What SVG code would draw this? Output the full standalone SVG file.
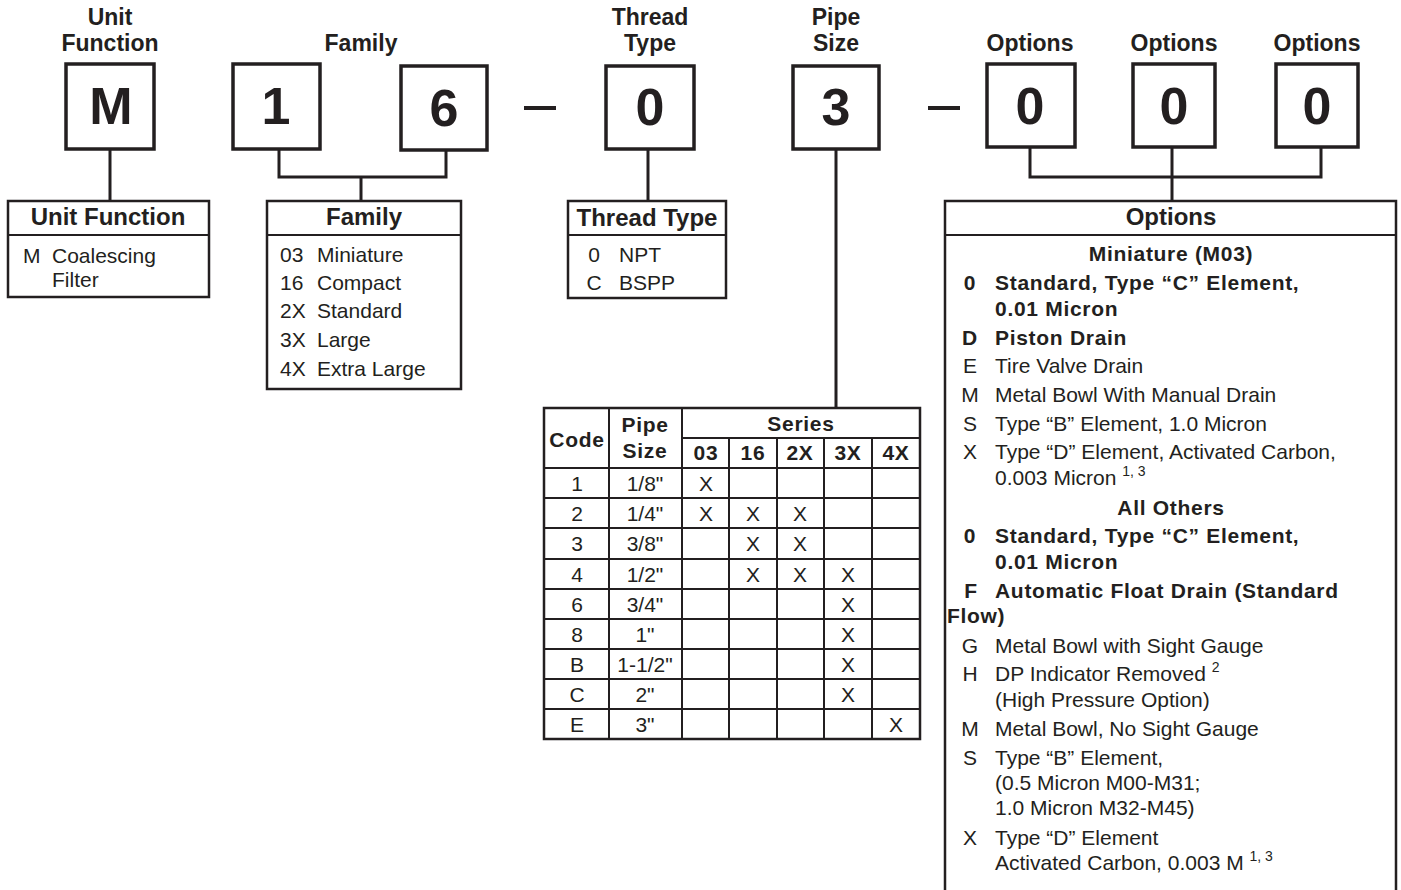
<svg xmlns="http://www.w3.org/2000/svg" width="1401" height="890" viewBox="0 0 1401 890">
<style>
text{font-family:"Liberation Sans",Arial,sans-serif;fill:#231f20}
.lbl{font-size:23px;font-weight:bold;text-anchor:middle}
.big{font-size:52px;font-weight:bold;text-anchor:middle}
.hd{font-size:24px;font-weight:bold;text-anchor:middle}
.t{font-size:21px}
.c{font-size:21px;text-anchor:middle}
.b{font-size:21px;font-weight:bold;letter-spacing:0.7px}
.bc{font-size:21px;font-weight:bold;letter-spacing:0.7px;text-anchor:middle}
.sup{font-size:14px}
.cb{fill:#fff;stroke:#231f20;stroke-width:3.5}
.ib{fill:#fff;stroke:#231f20;stroke-width:2.5}
.ln{stroke:#231f20;stroke-width:3;fill:none}
.tl{stroke:#231f20;stroke-width:2;fill:none}
.gray{fill:#e6e7e8}
</style>
<g id="connectors">
<line class="ln" x1="110" y1="149" x2="110" y2="201"/>
<polyline class="ln" points="279,149 279,177 446,177 446,150"/>
<line class="ln" x1="361" y1="177" x2="361" y2="201"/>
<line class="ln" x1="648" y1="149" x2="648" y2="201"/>
<line class="ln" x1="836" y1="149" x2="836" y2="409"/>
<polyline class="ln" points="1030,147 1030,177 1321,177 1321,147"/>
<line class="ln" x1="1172" y1="147" x2="1172" y2="201"/>
<line x1="524" y1="108" x2="556" y2="108" stroke="#231f20" stroke-width="4"/>
<line x1="928" y1="108" x2="960" y2="108" stroke="#231f20" stroke-width="4"/>
</g>
<g id="code-M">
<text class="lbl" x="110" y="25">Unit</text>
<text class="lbl" x="110" y="51">Function</text>
<rect class="cb" x="66" y="64" width="88" height="85"/>
<text class="big" x="111" y="124">M</text>
</g>
<g id="code-1">
<text class="lbl" x="361" y="51">Family</text>
<rect class="cb" x="233" y="64" width="87" height="85"/>
<text class="big" x="276" y="124">1</text>
</g>
<g id="code-6">
<rect class="cb" x="401" y="66" width="86" height="84"/>
<text class="big" x="444" y="126">6</text>
</g>
<g id="code-0-thread">
<text class="lbl" x="650" y="25">Thread</text>
<text class="lbl" x="650" y="51">Type</text>
<rect class="cb" x="606" y="66" width="88" height="83"/>
<text class="big" x="650" y="125">0</text>
</g>
<g id="code-3">
<text class="lbl" x="836" y="25">Pipe</text>
<text class="lbl" x="836" y="51">Size</text>
<rect class="cb" x="793" y="66" width="86" height="83"/>
<text class="big" x="836" y="125">3</text>
</g>
<g id="code-opt1">
<text class="lbl" x="1030" y="51">Options</text>
<rect class="cb" x="987" y="64" width="88" height="83"/>
<text class="big" x="1030" y="124">0</text>
</g>
<g id="code-opt2">
<text class="lbl" x="1174" y="51">Options</text>
<rect class="cb" x="1133" y="64" width="82" height="83"/>
<text class="big" x="1174" y="124">0</text>
</g>
<g id="code-opt3">
<text class="lbl" x="1317" y="51">Options</text>
<rect class="cb" x="1276" y="64" width="82" height="83"/>
<text class="big" x="1317" y="124">0</text>
</g>
<g id="unit-function">
<rect class="ib" x="8" y="201" width="201" height="96"/>
<line class="tl" x1="8" y1="235" x2="209" y2="235"/>
<text class="hd" x="108" y="225">Unit Function</text>
<text class="t" x="23" y="263">M</text>
<text class="t" x="52" y="263">Coalescing<tspan x="52" dy="24">Filter</tspan></text>
</g>
<g id="family">
<rect class="ib" x="267" y="201" width="194" height="188"/>
<line class="tl" x1="267" y1="235" x2="461" y2="235"/>
<text class="hd" x="364" y="225">Family</text>
<text class="t" x="280" y="262">03</text><text class="t" x="317" y="262">Miniature</text>
<text class="t" x="280" y="290">16</text><text class="t" x="317" y="290">Compact</text>
<text class="t" x="280" y="318">2X</text><text class="t" x="317" y="318">Standard</text>
<text class="t" x="280" y="347">3X</text><text class="t" x="317" y="347">Large</text>
<text class="t" x="280" y="376">4X</text><text class="t" x="317" y="376">Extra Large</text>
</g>
<g id="thread-type">
<rect class="ib" x="568" y="201" width="158" height="97"/>
<line class="tl" x1="568" y1="235" x2="726" y2="235"/>
<text class="hd" x="647" y="226">Thread Type</text>
<text class="c" x="594" y="262">0</text><text class="t" x="619" y="262">NPT</text>
<text class="c" x="594" y="290">C</text><text class="t" x="619" y="290">BSPP</text>
</g>
<g id="pipe-size-table">
<rect class="ib" x="544" y="408" width="376" height="331"/>
<line class="tl" x1="682" y1="438" x2="920" y2="438"/>
<line class="tl" x1="544" y1="468" x2="920" y2="468"/>
<line class="tl" x1="544" y1="498" x2="920" y2="498"/>
<line class="tl" x1="544" y1="528" x2="920" y2="528"/>
<line class="tl" x1="544" y1="559" x2="920" y2="559"/>
<line class="tl" x1="544" y1="589" x2="920" y2="589"/>
<line class="tl" x1="544" y1="619" x2="920" y2="619"/>
<line class="tl" x1="544" y1="649" x2="920" y2="649"/>
<line class="tl" x1="544" y1="679" x2="920" y2="679"/>
<line class="tl" x1="544" y1="709" x2="920" y2="709"/>
<line class="tl" x1="609" y1="408" x2="609" y2="739"/>
<line class="tl" x1="682" y1="408" x2="682" y2="739"/>
<line class="tl" x1="729" y1="438" x2="729" y2="739"/>
<line class="tl" x1="777" y1="438" x2="777" y2="739"/>
<line class="tl" x1="824" y1="438" x2="824" y2="739"/>
<line class="tl" x1="872" y1="438" x2="872" y2="739"/>
<text class="bc" x="577" y="447">Code</text>
<text class="bc" x="645" y="432">Pipe<tspan x="645" dy="26">Size</tspan></text>
<text class="bc" x="801" y="431">Series</text>
<text class="bc" x="706" y="460">03</text>
<text class="bc" x="753" y="460">16</text>
<text class="bc" x="800" y="460">2X</text>
<text class="bc" x="848" y="460">3X</text>
<text class="bc" x="896" y="460">4X</text>
<text class="c" x="577" y="491">1</text><text class="c" x="645" y="491">1/8"</text><text class="c" x="706" y="491">X</text>
<text class="c" x="577" y="521">2</text><text class="c" x="645" y="521">1/4"</text><text class="c" x="706" y="521">X</text><text class="c" x="753" y="521">X</text><text class="c" x="800" y="521">X</text>
<text class="c" x="577" y="551">3</text><text class="c" x="645" y="551">3/8"</text><text class="c" x="753" y="551">X</text><text class="c" x="800" y="551">X</text>
<text class="c" x="577" y="582">4</text><text class="c" x="645" y="582">1/2"</text><text class="c" x="753" y="582">X</text><text class="c" x="800" y="582">X</text><text class="c" x="848" y="582">X</text>
<text class="c" x="577" y="612">6</text><text class="c" x="645" y="612">3/4"</text><text class="c" x="848" y="612">X</text>
<text class="c" x="577" y="642">8</text><text class="c" x="645" y="642">1"</text><text class="c" x="848" y="642">X</text>
<text class="c" x="577" y="672">B</text><text class="c" x="645" y="672">1-1/2"</text><text class="c" x="848" y="672">X</text>
<text class="c" x="577" y="702">C</text><text class="c" x="645" y="702">2"</text><text class="c" x="848" y="702">X</text>
<text class="c" x="577" y="732">E</text><text class="c" x="645" y="732">3"</text><text class="c" x="896" y="732">X</text>
</g>
<g id="options">
<rect class="gray" x="946" y="270" width="449" height="81"/>
<rect class="gray" x="946" y="521" width="449" height="83"/>
<path class="ib" fill="none" d="M945,892 V201 H1396 V892"/>
<line class="tl" x1="945" y1="235" x2="1396" y2="235"/>
<text class="hd" x="1171" y="225">Options</text>
<text class="bc" x="1171" y="261">Miniature (M03)</text>
<text class="bc" x="970" y="290">0</text><text class="b" x="995" y="290">Standard, Type “C” Element,<tspan x="995" dy="26">0.01 Micron</tspan></text>
<text class="bc" x="970" y="345">D</text><text class="b" x="995" y="345">Piston Drain</text>
<text class="c" x="970" y="373">E</text><text class="t" x="995" y="373">Tire Valve Drain</text>
<text class="c" x="970" y="402">M</text><text class="t" x="995" y="402">Metal Bowl With Manual Drain</text>
<text class="c" x="970" y="431">S</text><text class="t" x="995" y="431">Type “B” Element, 1.0 Micron</text>
<text class="c" x="970" y="459">X</text><text class="t" x="995" y="459">Type “D” Element, Activated Carbon,<tspan x="995" dy="26">0.003 Micron </tspan><tspan class="sup" dy="-9">1, 3</tspan></text>
<text class="bc" x="1171" y="515">All Others</text>
<text class="bc" x="970" y="543">0</text><text class="b" x="995" y="543">Standard, Type “C” Element,<tspan x="995" dy="26">0.01 Micron</tspan></text>
<text class="bc" x="971" y="598">F</text><text class="b" x="995" y="598">Automatic Float Drain (Standard<tspan x="947" dy="25">Flow)</tspan></text>
<text class="c" x="970" y="653">G</text><text class="t" x="995" y="653">Metal Bowl with Sight Gauge</text>
<text class="c" x="970" y="681">H</text><text class="t" x="995" y="681">DP Indicator Removed <tspan class="sup" dy="-9">2</tspan><tspan class="t" x="995" dy="35">(High Pressure Option)</tspan></text>
<text class="c" x="970" y="736">M</text><text class="t" x="995" y="736">Metal Bowl, No Sight Gauge</text>
<text class="c" x="970" y="765">S</text><text class="t" x="995" y="765">Type “B” Element,<tspan x="995" dy="25">(0.5 Micron M00-M31;</tspan><tspan x="995" dy="25">1.0 Micron M32-M45)</tspan></text>
<text class="c" x="970" y="845">X</text><text class="t" x="995" y="845">Type “D” Element<tspan x="995" dy="25">Activated Carbon, 0.003 M </tspan><tspan class="sup" dy="-9">1, 3</tspan></text>
</g>
</svg>
